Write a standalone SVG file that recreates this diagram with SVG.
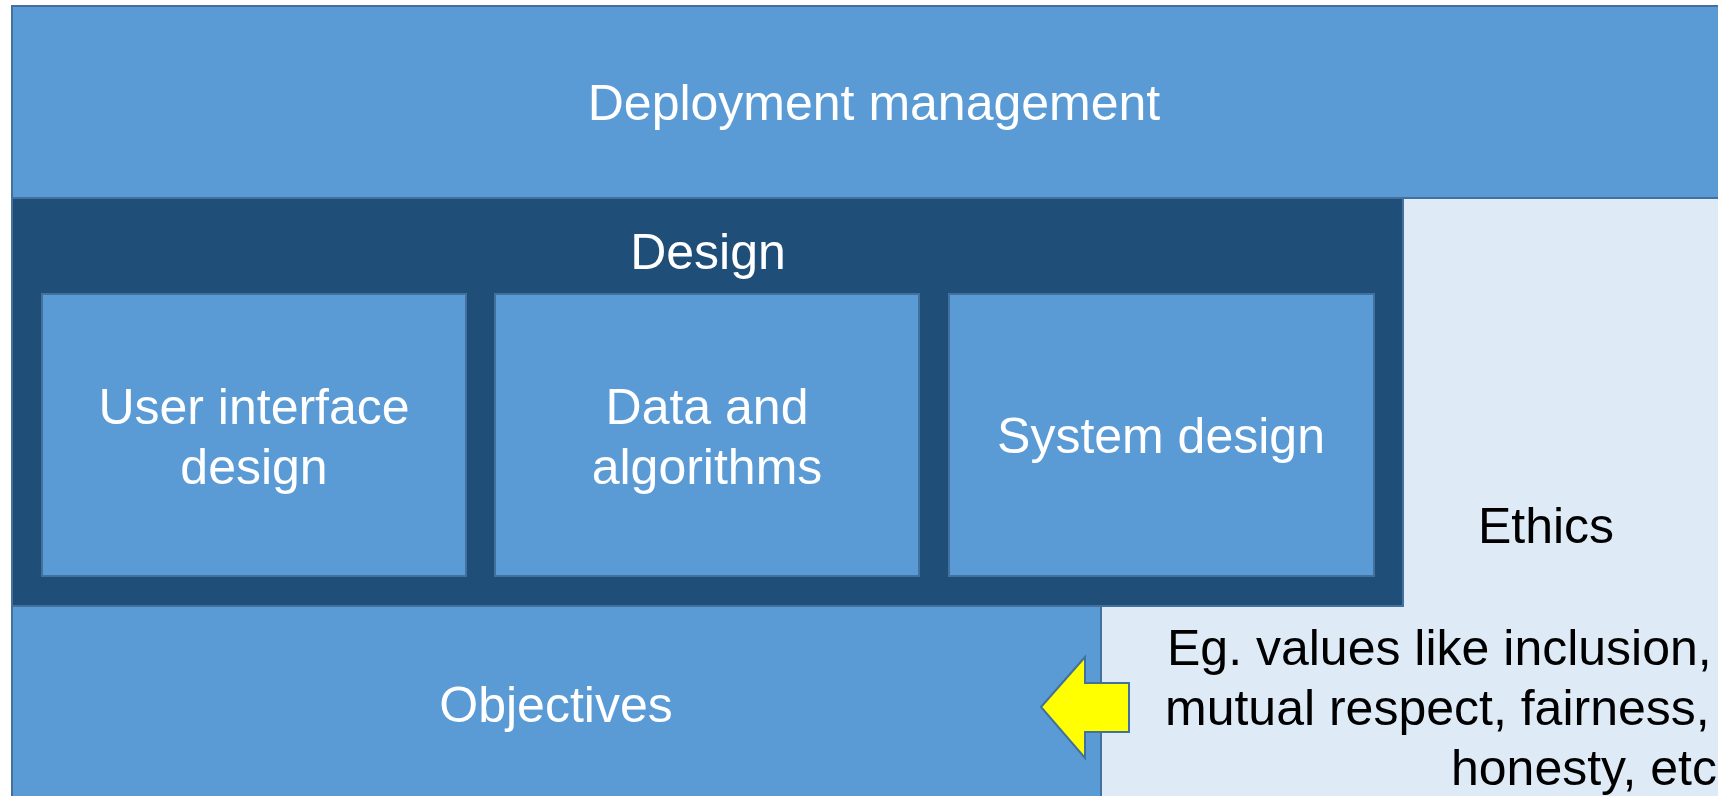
<svg xmlns="http://www.w3.org/2000/svg" width="1718" height="796" viewBox="0 0 1718 796">
  <style>
    .box { fill: #5B9BD5; stroke: #41719C; stroke-width: 2; }
    .dark { fill: #1F4E79; stroke: #41719C; stroke-width: 2; }
    .light { fill: #DEEBF7; stroke: #41719C; stroke-width: 2; }
    .lbl { font-family: "Liberation Sans", Arial, sans-serif; font-size: 50px; fill: #FFFFFF; text-anchor: middle; }
    .note { font-family: "Liberation Sans", Arial, sans-serif; font-size: 50px; fill: #000000; }
    .arrow { fill: #FFFF00; stroke: #41719C; stroke-width: 2; stroke-linejoin: miter; }
  </style>
  <rect width="1718" height="796" fill="#FFFFFF"/>

  <!-- Ethics layer behind design and objectives -->
  <g id="ethics">
    <rect class="light" x="1101" y="198" width="720" height="700"/>
    <text class="note" x="1546" y="543" text-anchor="middle">Ethics</text>
    <text class="note" x="1167" y="665">Eg. values like inclusion,</text>
    <text class="note" x="1165" y="725">mutual respect, fairness,</text>
    <text class="note" x="1451" y="785">honesty, etc</text>
  </g>

  <g id="deployment">
    <rect class="box" x="12" y="6" width="1740" height="192"/>
    <text class="lbl" x="874" y="120">Deployment management</text>
  </g>

  <g id="objectives">
    <rect class="box" x="12" y="606" width="1089" height="210"/>
    <text class="lbl" x="556" y="722">Objectives</text>
  </g>

  <g id="design">
    <rect class="dark" x="12" y="198" width="1391" height="408"/>
    <text class="lbl" x="708" y="269">Design</text>
  </g>

  <g id="ui-design">
    <rect class="box" x="42" y="294" width="424" height="282"/>
    <text class="lbl" x="254" y="424">User interface</text>
    <text class="lbl" x="254" y="484">design</text>
  </g>

  <g id="data-algorithms">
    <rect class="box" x="495" y="294" width="424" height="282"/>
    <text class="lbl" x="707" y="424">Data and</text>
    <text class="lbl" x="707" y="484">algorithms</text>
  </g>

  <g id="system-design">
    <rect class="box" x="949" y="294" width="425" height="282"/>
    <text class="lbl" x="1161" y="453">System design</text>
  </g>

  <!-- block arrow from ethics into objectives -->
  <g id="connectors">
    <polygon class="arrow" points="1041,707 1085,657 1085,683 1129,683 1129,732 1085,732 1085,758"/>
  </g>
</svg>
